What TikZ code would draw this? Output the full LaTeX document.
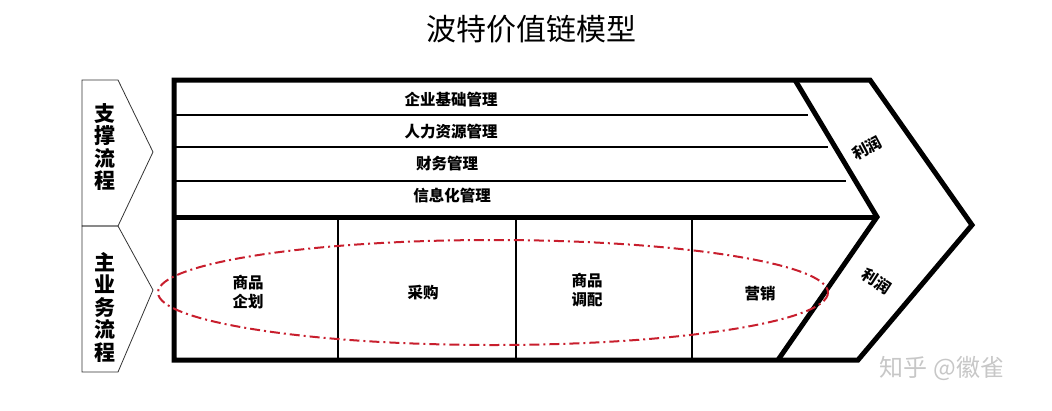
\documentclass[tikz,border=0pt]{standalone}
\usepackage{fontspec}
\newfontfamily\cjk{Noto Sans CJK SC}
\usetikzlibrary{positioning}
\definecolor{ovalred}{RGB}{200,30,45}

\begin{document}
\begin{tikzpicture}[x=1pt,y=-1pt,
      frame/.style={line width=5pt,line join=miter},
      thin line/.style={line width=1.2pt},
      side arrow/.style={draw=black!80,line width=0.8pt},
      box text/.style={font=\cjk\bfseries\fontsize{15.5}{19.5}\selectfont,align=center,inner sep=0pt},
      side text/.style={font=\cjk\bfseries\fontsize{21}{22.5}\selectfont,align=center,inner sep=0pt},
      profit text/.style={font=\cjk\bfseries\fontsize{15.5}{18}\selectfont,inner sep=0pt}]

      \useasboundingbox (0,0) rectangle (1052,410);

      \node[font=\cjk\fontsize{30}{34}\selectfont] (title) at (531,29) {波特价值链模型};

      % left side arrows
      \draw[side arrow] (82,80) -- (118,80) -- (153,152) -- (118,226) -- (82,226) -- cycle;
      \draw[side arrow] (82,226) -- (118,226) -- (153,290) -- (118,372) -- (82,372) -- cycle;
      \node[side text] (support) at (105,147) {支\\撑\\流\\程};
      \node[side text] (mainflow) at (105,307) {主\\业\\务\\流\\程};

      % outer frame and chevron
      \draw[frame] (174,80) -- (870,80) -- (972,225) -- (858,360) -- (174,360) -- cycle;
      \draw[frame] (795,80) -- (877,217) -- (778,360);
      \draw[frame] (174,217) -- (877,217);

      % rows of the support part
      \draw[thin line] (174,115) -- (808,115);
      \draw[thin line] (174,147) -- (828,147);
      \draw[thin line] (174,181) -- (846,181);
      \node[box text] (base) at (451,100) {企业基础管理};
      \node[box text] (hr) at (451,132) {人力资源管理};
      \node[box text] (finance) at (447,164) {财务管理};
      \node[box text] (it) at (452,196) {信息化管理};

      % columns of the main part
      \foreach \x in {338,516,692}
        \draw[thin line] (\x,217) -- (\x,360);
      \node[box text] (plan) at (248,292) {商品\\企划};
      \node[box text] (buy) at (423,293) {采购};
      \node[box text] (alloc) at (587,290) {商品\\调配};
      \node[box text] (sell) at (760,294) {营销};

      \draw[ovalred,line width=2pt,dash pattern=on 10pt off 4pt on 2pt off 4pt]
        (493,292.5) ellipse [x radius=335,y radius=52.5];

      \node[profit text,rotate=28] (profit1) at (867,148) {利润};
      \node[profit text,rotate=-33] (profit2) at (877,281) {利润};

      \node[text=black!22,font=\cjk\fontsize{24}{26}\selectfont] (mark) at (942,368) {知乎 @徽雀};
    \end{tikzpicture}
\end{document}
